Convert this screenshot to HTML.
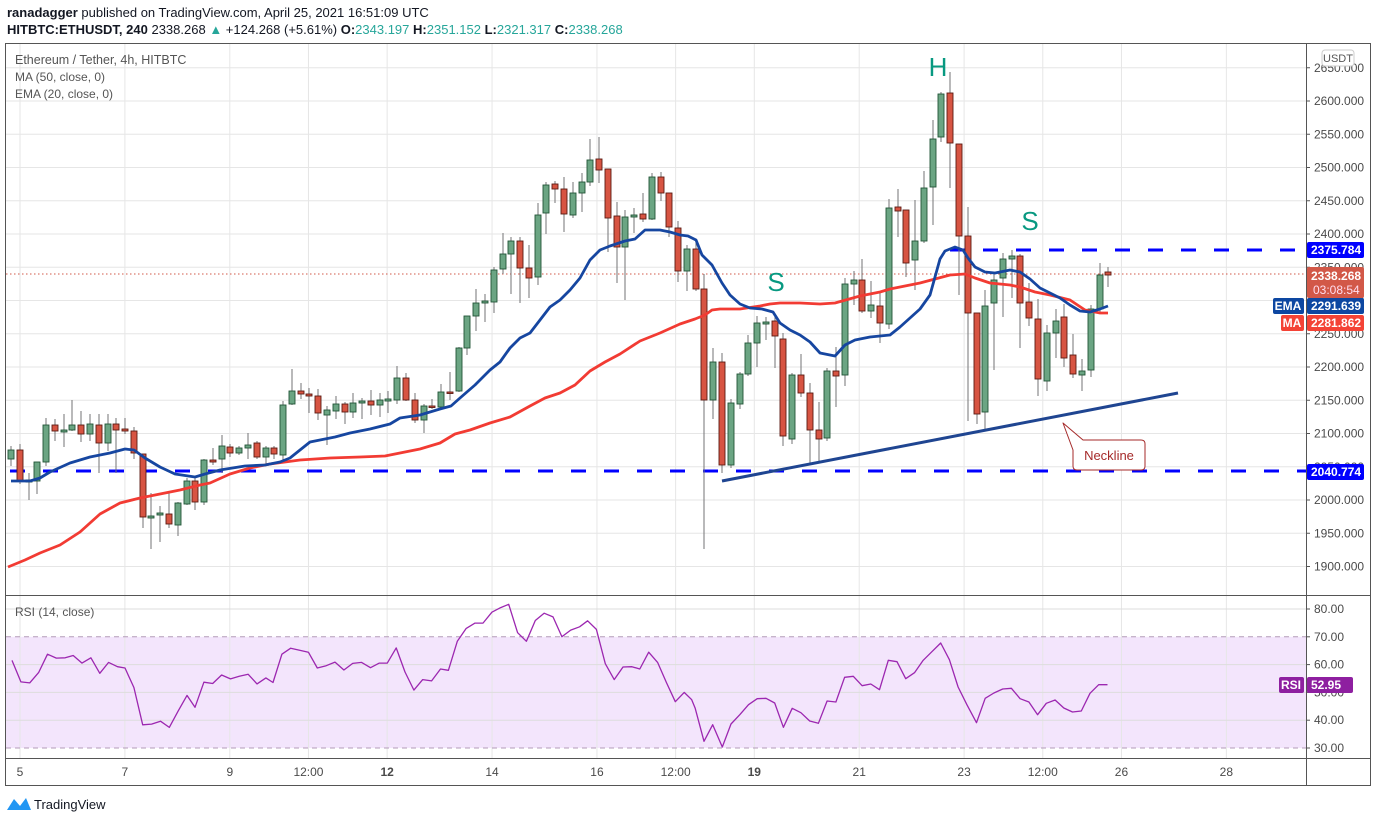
<!DOCTYPE html>
<html><head><meta charset="utf-8">
<style>
html,body{margin:0;padding:0;background:#fff;width:1376px;height:823px;overflow:hidden;font-family:"Liberation Sans",sans-serif;}
svg{position:absolute;left:0;top:0}
</style></head>
<body>
<svg id="s" width="1376" height="823" xmlns="http://www.w3.org/2000/svg" font-family="Liberation Sans, sans-serif">
<text x="7" y="17" font-size="13" fill="#131722"><tspan font-weight="bold">ranadagger</tspan> published on TradingView.com, April 25, 2021 16:51:09 UTC</text>
<text x="7" y="34" font-size="13" fill="#131722"><tspan font-weight="bold">HITBTC:ETHUSDT, 240</tspan>  2338.268 <tspan fill="#26a69a">▲</tspan> +124.268 (+5.61%) <tspan font-weight="bold">O:</tspan><tspan fill="#26a69a">2343.197</tspan> <tspan font-weight="bold">H:</tspan><tspan fill="#26a69a">2351.152</tspan> <tspan font-weight="bold">L:</tspan><tspan fill="#26a69a">2321.317</tspan> <tspan font-weight="bold">C:</tspan><tspan fill="#26a69a">2338.268</tspan></text>
<g id="g"></g>
</svg>
<script>
const S=document.getElementById('g');let h='';
const py=p=>101+(2600-p)*0.665;
const ry=r=>609+(80-r)*2.78;
h+='<rect x="5.5" y="43.5" width="1365" height="742" fill="none" stroke="#555" stroke-width="1"/>';
const dx=d=>20+(d-5)*52.45;
const tl=[[5,'5'],[7,'7'],[9,'9'],[10.5,'12:00'],[12,'12'],[14,'14'],[16,'16'],[17.5,'12:00'],[19,'19'],[21,'21'],[23,'23'],[24.5,'12:00'],[26,'26'],[28,'28']];
h+='<rect x="6" y="'+ry(70)+'" width="1300" height="'+(ry(30)-ry(70))+'" fill="#f3e5fc"/>';
for(const [d] of tl){const x=dx(d);h+='<line x1="'+x+'" y1="44" x2="'+x+'" y2="758" stroke="#e6e6e6"/>';}
for(let p=1900;p<=2650;p+=50){const y=py(p);h+='<line x1="6" y1="'+y+'" x2="1306" y2="'+y+'" stroke="#e6e6e6"/>';h+='<line x1="1306" y1="'+y+'" x2="1310" y2="'+y+'" stroke="#555"/><text x="1314" y="'+(y+4)+'" font-size="12" fill="#4a4a4a">'+p+'.000</text>';}
for(const r of [40,50,60,80]){const y=ry(r);h+='<line x1="6" y1="'+y+'" x2="1306" y2="'+y+'" stroke="#ddd"/>';}
for(const r of [30,70]){const y=ry(r);h+='<line x1="6" y1="'+y+'" x2="1306" y2="'+y+'" stroke="#b39bb8" stroke-dasharray="5,4"/>';}
for(const r of [30,40,50,60,70,80]){const y=ry(r);h+='<line x1="1306" y1="'+y+'" x2="1310" y2="'+y+'" stroke="#555"/><text x="1314" y="'+(y+4)+'" font-size="12" fill="#4a4a4a">'+r+'.00</text>';}
h+='<line x1="5" y1="595.5" x2="1371" y2="595.5" stroke="#555"/><line x1="5" y1="758.5" x2="1371" y2="758.5" stroke="#555"/><line x1="1306.5" y1="43" x2="1306.5" y2="786" stroke="#555"/>';
for(const [d,t] of tl){const x=dx(d);h+='<text x="'+x+'" y="776" font-size="12" fill="#4a4a4a" text-anchor="middle"'+((t=='12'||t=='19')?' font-weight="bold"':'')+'>'+t+'</text>';}
h+='<text x="15" y="64" font-size="12.5" fill="#555">Ethereum / Tether, 4h, HITBTC</text><text x="15" y="81" font-size="12" fill="#555">MA (50, close, 0)</text><text x="15" y="98" font-size="12" fill="#555">EMA (20, close, 0)</text><text x="15" y="616" font-size="12" fill="#555">RSI (14, close)</text>';
h+='<svg x="0" y="0" width="1306" height="595">';
h+='<line x1="10" y1="471" x2="1306" y2="471" stroke="#0000ff" stroke-width="3" stroke-dasharray="15,18"/>';
h+='<line x1="950" y1="250" x2="1306" y2="250" stroke="#0000ff" stroke-width="3" stroke-dasharray="15,18"/>';
h+='<line x1="6" y1="274" x2="1306" y2="274" stroke="#d25848" stroke-dasharray="1.5,2.5"/>';
const C=[[11,450,459,446,466,'g'],[20,450,481,444,484,'r'],[29,480,482,473,500,'g'],[37,462,481,462,494,'g'],[46,425,462,418,466,'g'],[55,425,431,419,441,'r'],[64,430,432,414,447,'g'],[72,425,430,400,431,'g'],[81,425,434,411,442,'r'],[90,424,434,414,441,'g'],[99,425,443,414,473,'r'],[108,424,443,414,451,'g'],[116,424,430,418,473,'r'],[125,429,431,418,434,'r'],[134,431,453,427,459,'r'],[143,454,517,454,528,'r'],[151,516,518,493,549,'g'],[160,513,515,506,542,'g'],[169,514,524,491,528,'r'],[178,503,525,502,536,'g'],[187,481,504,478,505,'g'],[195,481,502,477,510,'r'],[204,460,502,459,505,'g'],[213,460,462,448,465,'r'],[222,446,459,435,473,'g'],[230,447,453,444,457,'r'],[239,448,453,446,455,'g'],[248,445,448,433,459,'g'],[257,443,457,441,459,'r'],[266,448,457,446,466,'g'],[274,448,454,446,459,'r'],[283,405,455,401,460,'g'],[292,391,404,369,405,'g'],[301,391,394,383,399,'r'],[309,394,396,388,413,'r'],[318,396,413,389,420,'r'],[327,410,415,406,445,'g'],[336,404,411,396,419,'g'],[345,404,412,402,424,'r'],[353,403,412,393,418,'g'],[362,401,403,398,419,'g'],[371,401,405,390,415,'r'],[380,400,405,393,417,'g'],[388,399,401,391,413,'g'],[397,378,400,366,404,'g'],[406,378,400,373,401,'r'],[415,400,420,393,423,'r'],[424,406,420,404,433,'g'],[432,406,407,399,409,'r'],[441,392,407,384,408,'g'],[450,392,393,372,400,'r'],
[459,348,391,347,392,'g'],[467,316,348,316,355,'g'],[476,303,316,289,331,'g'],[485,301,303,294,322,'g'],[494,270,302,267,313,'g'],[503,254,269,233,274,'g'],[511,241,254,237,294,'g'],[520,241,268,237,303,'r'],[529,268,278,245,298,'r'],[538,215,277,203,285,'g'],[546,185,213,182,234,'g'],[555,184,189,181,203,'r'],[564,189,214,177,232,'r'],[573,193,215,182,218,'g'],[582,182,193,173,212,'g'],[590,160,182,139,186,'g'],[599,159,170,137,183,'r'],[608,169,218,169,252,'r'],[617,216,247,202,283,'r'],[625,217,247,210,300,'g'],[634,215,217,208,233,'g'],[643,214,219,193,222,'r'],[652,177,219,173,220,'g'],[661,177,193,172,201,'r'],[669,193,227,193,237,'r'],[678,228,271,221,282,'r'],[687,249,271,245,291,'g'],[696,249,289,242,291,'r'],[704,289,400,274,549,'r'],[713,362,400,348,419,'g'],[722,362,465,353,473,'r'],[731,403,465,399,468,'g'],[740,374,404,372,409,'g'],[748,343,374,335,376,'g'],[757,323,343,316,367,'g'],[766,322,324,317,340,'g'],[775,321,336,317,368,'r'],[783,339,436,333,446,'r'],[792,375,439,373,444,'g'],[801,375,393,354,397,'r'],[810,393,430,383,463,'r'],[819,430,439,402,463,'r'],[827,371,438,368,441,'g'],[836,371,376,347,407,'r'],[845,284,375,278,386,'g'],[854,280,284,271,305,'g'],[862,280,311,259,313,'r'],[871,305,311,281,318,'g'],[880,306,323,292,343,'r'],[889,208,324,199,329,'g'],[898,207,211,189,237,'r'],[906,210,263,210,277,'r'],[915,241,260,200,290,'g'],[924,188,241,171,243,'g'],[933,139,187,120,225,'g'],[941,94,137,92,142,'g'],[950,93,143,72,188,'r'],[959,144,236,144,295,'r'],[968,236,313,207,421,'r'],[977,313,414,313,424,'r'],[985,306,412,290,429,'g'],[994,280,303,272,370,'g'],[1003,259,278,253,317,'g'],[1012,256,259,250,298,'g'],[1020,256,303,254,348,'r'],[1029,302,318,283,326,'r'],[1038,319,379,299,396,'r'],[1047,333,381,325,391,'g'],[1056,321,333,309,358,'g'],[1064,317,358,304,367,'r'],[1073,355,374,334,378,'r'],[1082,371,375,359,391,'g'],[1091,309,370,305,377,'g'],[1100,275,309,263,313,'g'],[1108,272,275,267,287,'r']];
for(const [x,t,b,wt,wb,c] of C){h+='<line x1="'+x+'" y1="'+wt+'" x2="'+x+'" y2="'+wb+'" stroke="#737375"/>';
const bh=Math.max(b-t,1.5);h+='<rect x="'+(x-3)+'" y="'+t+'" width="6" height="'+bh+'" fill="'+(c=='g'?'#6ba583':'#d75442')+'" stroke="'+(c=='g'?'#225437':'#5b1a13')+'" stroke-width="0.9"/>';}
const pl=(a,col,w)=>'<polyline fill="none" stroke="'+col+'" stroke-width="'+w+'" stroke-linejoin="round" points="'+a.map(p=>p.join(',')).join(' ')+'"/>';
const MA=[[8,567],[25,560],[40,553],[60,545],[80,532],[100,514],[120,503],[140,498],[160,494],[180,490],[200,485],[210,483],[230,474],[250,468],[270,464],[300,460],[330,458],[360,457],[385,456],[400,453],[420,449],[440,443],[455,434],[470,430],[490,423],[510,417],[530,406],[545,398],[560,393],[575,385],[590,371],[605,362],[620,354],[640,341],[660,333],[680,324],[695,319],[705,315],[712,310],[720,309],[740,309],[760,306],[770,304],[780,303],[800,303],[820,304],[835,303],[860,296],[880,292],[890,289],[905,286],[920,283],[935,279],[950,275],[965,274],[975,278],[990,283],[1010,285],[1020,287],[1035,292],[1050,295],[1070,300],[1085,310],[1100,313],[1108,313]];
const EMA=[[11,481],[30,481],[40,478],[50,472],[70,463],[90,457],[110,453],[125,449],[134,450],[145,458],[160,467],[175,474],[195,477],[205,474],[220,470],[245,466],[265,465],[280,462],[290,458],[310,442],[335,437],[350,433],[370,429],[390,424],[400,418],[420,415],[440,409],[451,406],[460,398],[475,385],[490,370],[500,362],[510,348],[520,338],[530,333],[540,320],[550,307],[560,300],[570,290],[580,278],[590,260],[600,250],[610,246],[625,241],[635,239],[645,230],[660,230],[670,232],[680,235],[688,236],[696,240],[702,255],[712,265],[722,283],[730,295],[740,304],[750,308],[762,309],[773,312],[780,323],[790,330],[800,335],[810,342],[820,353],[835,356],[845,345],[855,340],[870,337],[880,336],[890,335],[900,327],[910,318],[920,309],[930,295],[940,259],[945,251],[955,247],[963,250],[968,258],[975,267],[985,272],[995,273],[1010,270],[1020,272],[1030,279],[1040,288],[1050,293],[1060,298],[1070,305],[1080,311],[1090,312],[1100,309],[1108,306]];
h+=pl(MA,'#f23b33',2.8)+pl(EMA,'#1646a0',2.8);
h+='<line x1="722" y1="481" x2="1178" y2="393" stroke="#1f4591" stroke-width="3"/>';
h+='<text x="938" y="76" font-size="26" fill="#089981" text-anchor="middle">H</text><text x="776" y="291" font-size="26" fill="#089981" text-anchor="middle">S</text><text x="1030" y="230" font-size="26" fill="#089981" text-anchor="middle">S</text>';
h+='<path d="M1083,440 L1141,440 Q1145,440 1145,444 L1145,466 Q1145,470 1141,470 L1077,470 Q1073,470 1073,466 L1073,450 L1063,423 Z" fill="#fff" stroke="#a52a2a" stroke-width="1" stroke-linejoin="round"/><text x="1109" y="460" font-size="13" fill="#a52a2a" text-anchor="middle">Neckline</text>';
h+='</svg>';
const R1=[[25,213],[45,278],[65,281],[85,250],[105,194],[125,206],[145,205],[163,198],[183,221],[203,205],[223,252],[243,219],[263,232],[280,236],[300,295],[320,408],[340,406],[360,397],[380,416],[400,366],[420,319],[438,355],[458,279],[478,283],[498,257],[518,269],[538,261],[558,255],[578,284],[598,266],[614,280],[634,194],[654,176],[674,182],[694,188],[714,236],[734,229],[754,218],[774,242],[794,222],[814,219],[834,235],[854,221],[872,221],[892,175],[912,248],[932,303],[952,271],[972,275],[992,239],[1010,243],[1030,155],[1050,116],[1070,100],[1088,100],[1108,67],[1128,53],[1146,43],[1166,129],[1186,155],[1206,92],[1226,70],[1246,81],[1266,141],[1286,121],[1306,111],[1324,93],[1344,119],[1364,223],[1384,271],[1404,233],[1424,232],[1442,239],[1462,188],[1482,219],[1502,280],[1522,338],[1542,310]].map(([a,b])=>[20+(a-43)/2.257,637+(b-142)/3.03]);
const R2=[[4,330],[12,356],[32,455],[52,405],[74,472],[94,403],[114,375],[134,345],[154,327],[174,326],[194,340],[214,413],[234,356],[254,369],[274,394],[294,401],[314,334],[334,337],[354,263],[374,260],[394,288],[414,283],[434,300],[454,212],[474,216],[494,267],[514,249],[534,212],[554,186],[574,160],[594,210],[614,292],[634,345],[656,399],[676,326],[696,310],[716,298],[736,296],[756,327],[776,337],[796,375],[816,341],[836,331],[856,355],[876,367],[896,364],[916,311],[936,285],[956,285]].map(([a,b])=>[690+a/2.29,637+(b-142)/3.0]);
h+=pl(R1.concat(R2).map(p=>[p[0].toFixed(1),p[1].toFixed(1)]),'#9c27b0',1.3);
const box=(y,txt,col,w)=>'<rect x="1307" y="'+(y-8)+'" width="'+(w||57)+'" height="16" rx="2" fill="'+col+'"/><text x="1311" y="'+(y+4)+'" font-size="12" font-weight="bold" fill="#fff">'+txt+'</text>';
h+='<rect x="1322" y="50" width="32" height="16" rx="3" fill="#fff" stroke="#ccc"/><text x="1338" y="62" font-size="11" fill="#555" text-anchor="middle">USDT</text>';
h+=box(250,'2375.784','#0000ff');
h+='<rect x="1307" y="267" width="57" height="31" rx="2" fill="#d25848"/><text x="1311" y="280" font-size="12" font-weight="bold" fill="#fff">2338.268</text><text x="1313" y="294" font-size="12" fill="#fde">03:08:54</text>';
h+=box(306,'2291.639','#0d47a1')+'<rect x="1273" y="298" width="31" height="16" rx="2" fill="#0d47a1"/><text x="1288" y="310" font-size="12" font-weight="bold" fill="#fff" text-anchor="middle">EMA</text>';
h+=box(323,'2281.862','#f44336')+'<rect x="1281" y="315" width="23" height="16" rx="2" fill="#f44336"/><text x="1292" y="327" font-size="12" font-weight="bold" fill="#fff" text-anchor="middle">MA</text>';
h+=box(472,'2040.774','#0000ff');
h+=box(685,'52.95','#8e1fa0',46)+'<rect x="1279" y="677" width="25" height="16" rx="2" fill="#8e1fa0"/><text x="1291" y="689" font-size="12" font-weight="bold" fill="#fff" text-anchor="middle">RSI</text>';
h+='<path d="M7,810 L14,799 L20,806 L26,798 L31,810 Z" fill="#2196f3"/><text x="34" y="809" font-size="13" fill="#131722">TradingView</text>';
S.innerHTML=h;
</script>
</body></html>
